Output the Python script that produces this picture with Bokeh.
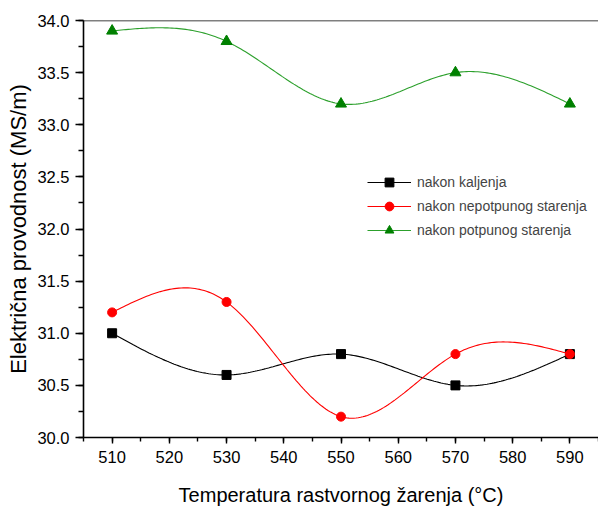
import numpy as np
from bokeh.plotting import figure
from bokeh.models import Range1d, Legend, LegendItem, Span, FixedTicker, PrintfTickFormatter
from bokeh.embed import file_html
from bokeh.resources import INLINE

temps = [510, 530, 550, 570, 590]
kaljenje = [31.0, 30.6, 30.8, 30.5, 30.8]
nepotpuno = [31.2, 31.3, 30.2, 30.8, 30.8]
potpuno = [33.9, 33.8, 33.2, 33.5, 33.2]
labels = ["nakon kaljenja", "nakon nepotpunog starenja", "nakon potpunog starenja"]
x_ticks = [510, 520, 530, 540, 550, 560, 570, 580, 590]
y_ticks = [30.0, 30.5, 31.0, 31.5, 32.0, 32.5, 33.0, 33.5, 34.0]

FONT = "Liberation Sans"


def natural_spline(x, y, n=200):
    x = np.asarray(x, float)
    y = np.asarray(y, float)
    k = len(x)
    h = np.diff(x)
    A = np.zeros((k, k))
    b = np.zeros(k)
    A[0, 0] = 1
    A[-1, -1] = 1
    for i in range(1, k - 1):
        A[i, i - 1] = h[i - 1]
        A[i, i] = 2 * (h[i - 1] + h[i])
        A[i, i + 1] = h[i]
        b[i] = 6 * ((y[i + 1] - y[i]) / h[i] - (y[i] - y[i - 1]) / h[i - 1])
    M = np.linalg.solve(A, b)
    xs = np.linspace(x[0], x[-1], n)
    ys = np.empty_like(xs)
    for j, t in enumerate(xs):
        i = min(np.searchsorted(x, t, side="right") - 1, k - 2)
        a = x[i + 1] - t
        c = t - x[i]
        ys[j] = (M[i] * a ** 3 + M[i + 1] * c ** 3) / (6 * h[i]) \
            + (y[i] / h[i] - M[i] * h[i] / 6) * a \
            + (y[i + 1] / h[i] - M[i + 1] * h[i] / 6) * c
    return xs, ys


p = figure(width=598, height=508, output_backend="svg", toolbar_location=None,
           x_range=Range1d(505, 595), y_range=Range1d(30.0, 34.0),
           min_border_left=83, min_border_right=0, min_border_top=20, min_border_bottom=70)
p.outline_line_color = None
p.xgrid.visible = False
p.ygrid.visible = False
p.background_fill_color = "white"
p.border_fill_color = "white"

p.add_layout(Span(location=34.0, dimension="width", line_color="black", line_width=1.6))

for ax in (p.xaxis, p.yaxis):
    ax.axis_line_width = 1.6
    ax.axis_line_color = "black"
    ax.major_tick_line_width = 1.4
    ax.minor_tick_line_width = 1.4
    ax.major_tick_in = 0
    ax.minor_tick_in = 0
    ax.major_label_text_font = FONT
    ax.major_label_text_font_size = "16.5px"
    ax.major_label_text_color = "black"
    ax.axis_label_text_font = FONT
    ax.axis_label_text_font_style = "normal"
    ax.axis_label_text_color = "black"

p.xaxis.axis_label_text_font_size = "20px"
p.yaxis.axis_label_text_font_size = "22px"
p.xaxis.ticker = FixedTicker(ticks=x_ticks, minor_ticks=[505 + 5 * i for i in range(19)])
p.yaxis.ticker = FixedTicker(ticks=y_ticks, minor_ticks=[30 + 0.25 * i for i in range(17)])
p.xaxis.major_tick_out = 6
p.xaxis.minor_tick_out = 4
p.yaxis.major_tick_out = 8
p.yaxis.minor_tick_out = 5
p.xaxis.axis_label = "Temperatura rastvornog žarenja (°C)"
p.yaxis.axis_label = "Električna provodnost (MS/m)"
p.xaxis.axis_label_standoff = 18
p.yaxis.axis_label_standoff = 3
p.xaxis.major_label_standoff = 7
p.yaxis.major_label_standoff = 6
p.yaxis.formatter = PrintfTickFormatter(format="%.1f")

series = [
    (kaljenje, "black", "black", "square", 9),
    (nepotpuno, "#ff0000", "#ff0000", "circle", 9),
    (potpuno, "#008000", "#2ca02c", "triangle", 11),
]
items = []
for (vals, col, lcol, mk, sz), lab in zip(series, labels):
    xs, ys = natural_spline(temps, vals)
    ln = p.line(xs, ys, line_color=lcol, line_width=1.1)
    sc = p.scatter(temps, vals, marker=mk, size=sz, fill_color=col, line_color=col)
    items.append(LegendItem(label=lab, renderers=[ln, sc]))

legend = Legend(items=items, location=(284, 196), glyph_width=44, glyph_height=22,
                label_text_font=FONT, label_text_font_size="14px", spacing=2,
                border_line_color=None, background_fill_alpha=0,
                label_standoff=6, padding=4, margin=0)
p.add_layout(legend)

open("out.html", "w").write(file_html(p, INLINE))
